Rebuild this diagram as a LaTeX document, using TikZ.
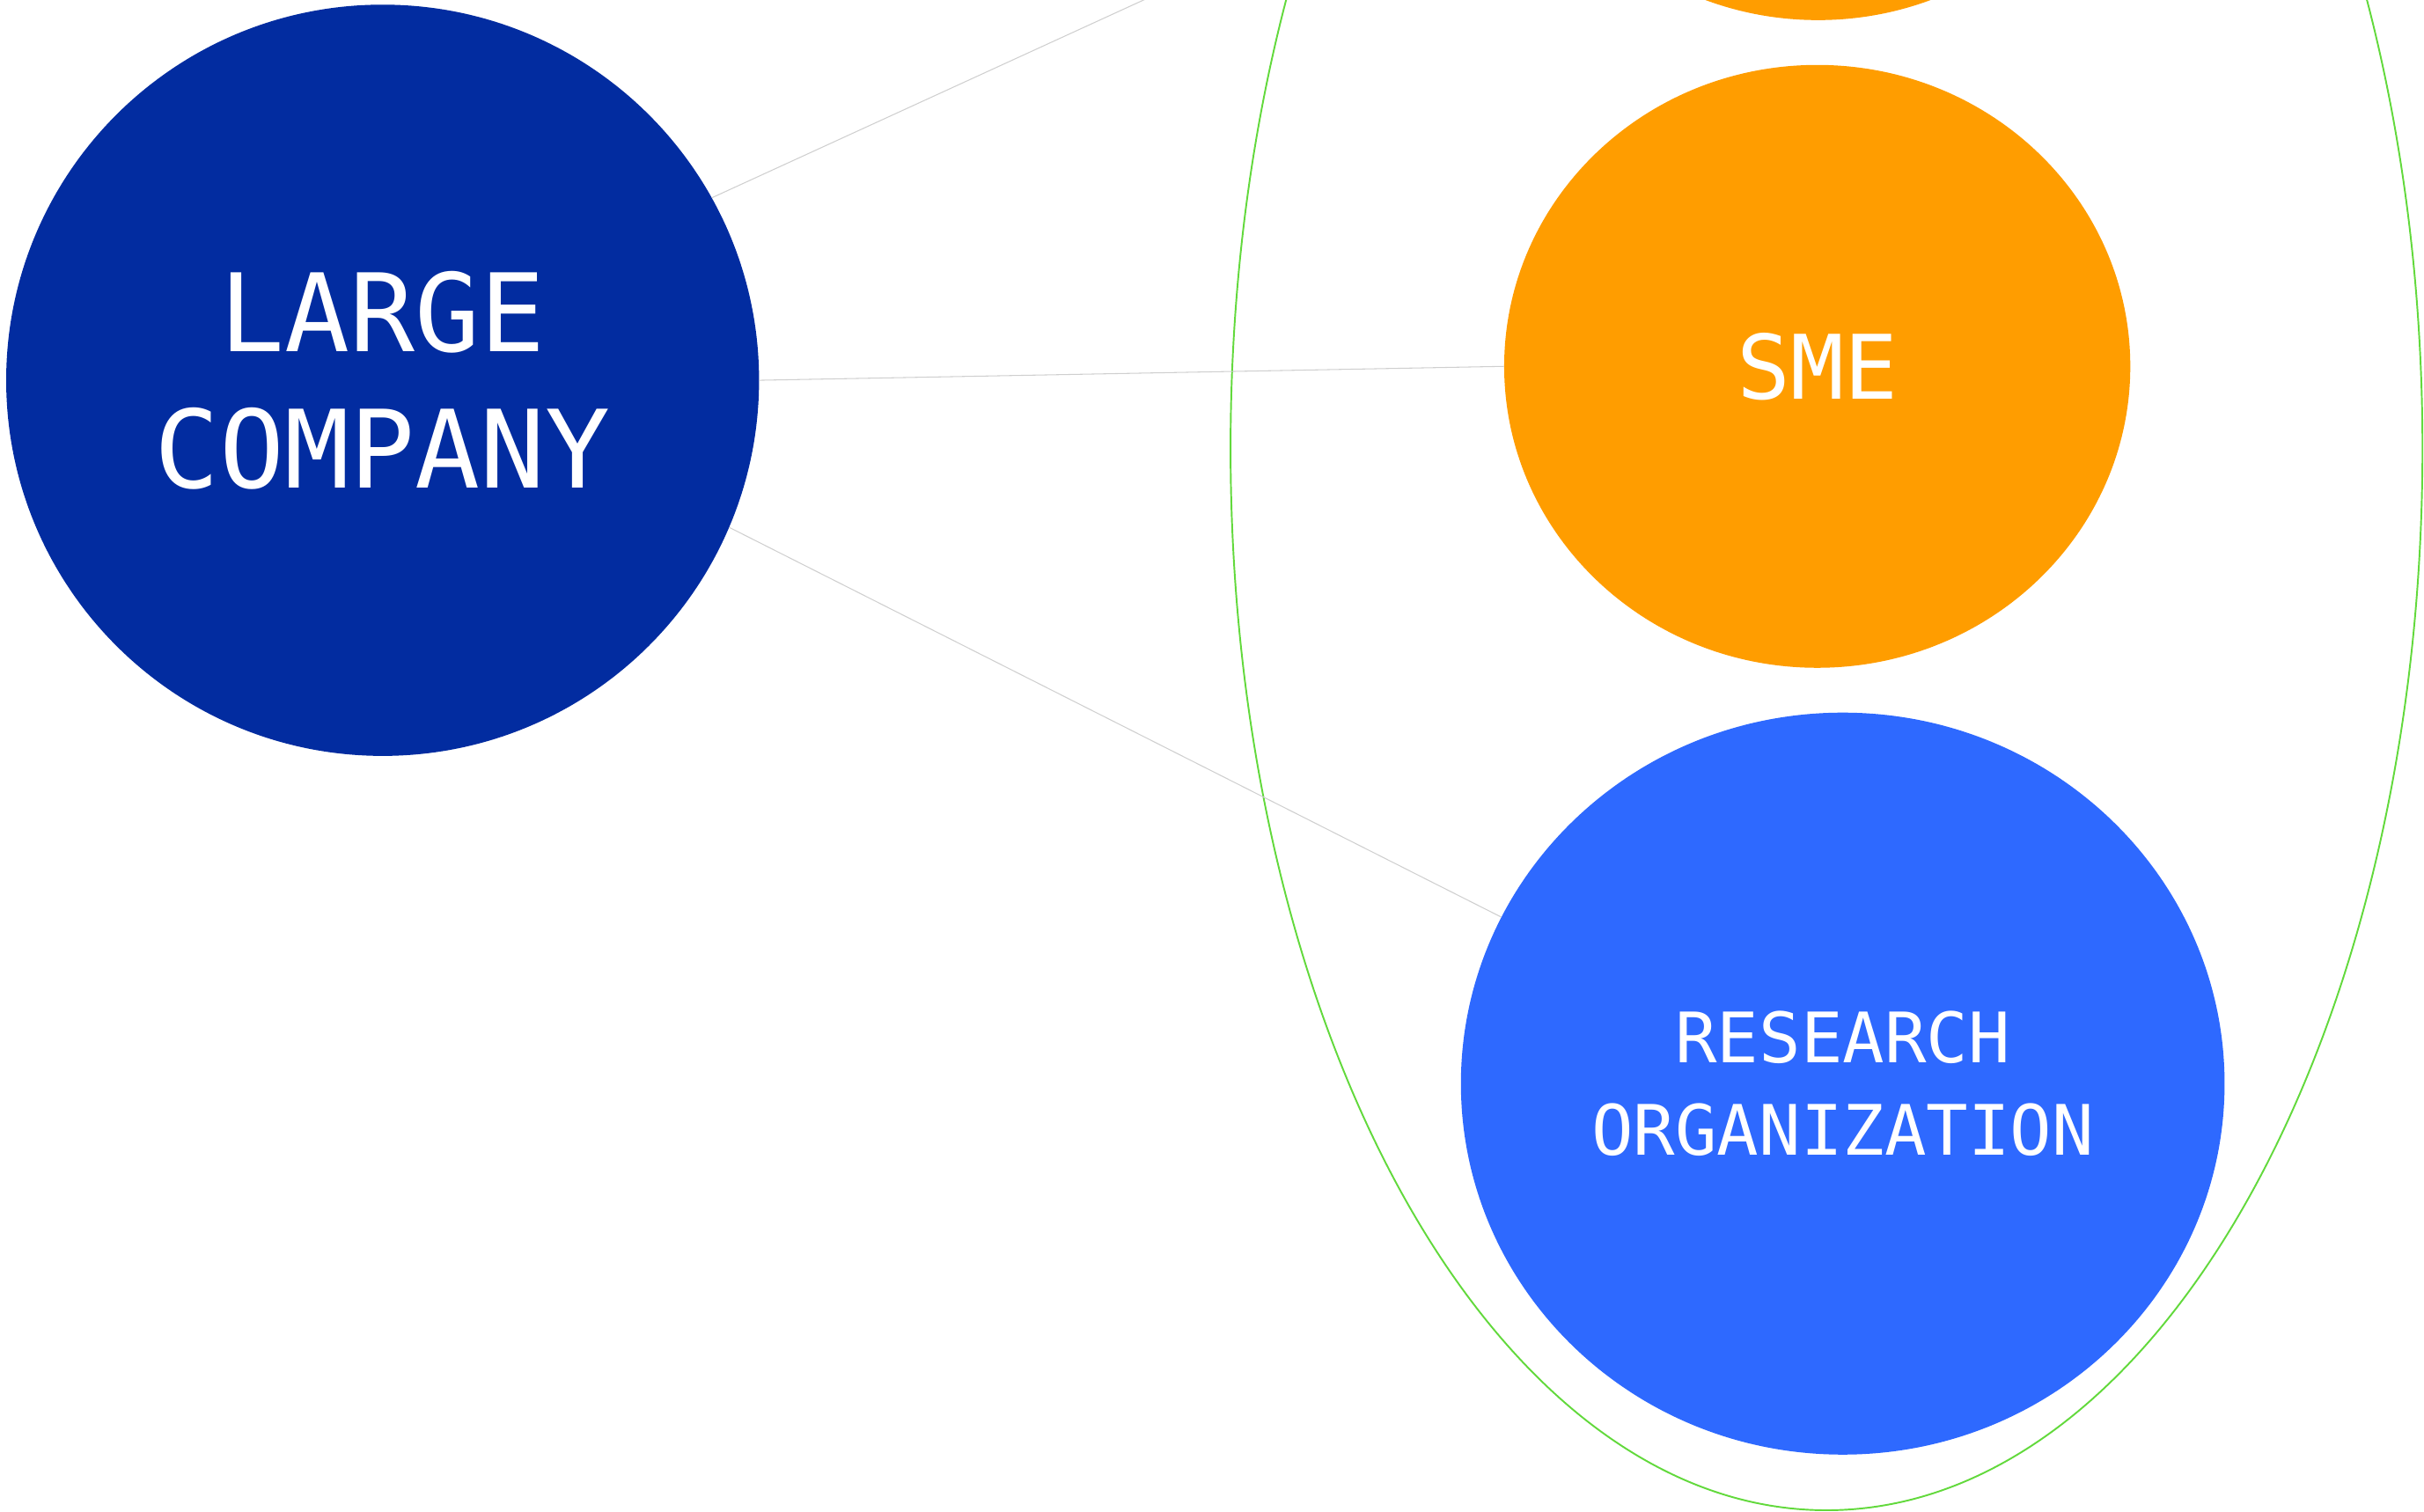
\documentclass[tikz,border=0pt]{standalone}
\usepackage{fontspec}
\setmainfont{DejaVu Sans Mono}
\usetikzlibrary{shapes.geometric}
\definecolor{lcblue}{HTML}{022CA0}
\definecolor{smeorange}{HTML}{FF9D00}
\definecolor{roblue}{HTML}{2E69FF}
\definecolor{grpgreen}{HTML}{62D93C}
\definecolor{linkgray}{HTML}{CFCFCF}
\tikzset{
  blob/.style={ellipse, inner sep=0pt, text=white, align=center},
  link/.style={draw=linkgray, line width=0.6pt},
  group/.style={ellipse, draw=grpgreen, line width=1.1pt, inner sep=0pt}
}
\begin{document}
\begin{tikzpicture}[x=1pt,y=-1pt]
\useasboundingbox (0,0) rectangle (1568,978);
\clip (0,0) rectangle (1568,978);
\node[group, minimum width=771pt, minimum height=1374pt] (grp) at (1181.5,290) {};
\node[blob, fill=smeorange, minimum width=405pt, minimum height=390pt] (top) at (1176,-182) {};
\node[blob, fill=lcblue, minimum width=487pt, minimum height=486pt,
      font=\fontsize{70}{88}\selectfont] (lc) at (247.5,246) {LARGE\\COMPANY};
\node[blob, fill=smeorange, minimum width=405pt, minimum height=390pt,
      font=\fontsize{57.6}{70}\selectfont] (sme) at (1175.5,237) {SME};
\node[blob, fill=roblue, minimum width=494pt, minimum height=480pt,
      font=\fontsize{45}{60}\selectfont] (ro) at (1192,701) {RESEARCH\\ORGANIZATION};
\draw[link] (lc.29.3) -- (top.200.75);
\draw[link] (lc.east) -- (sme.west);
\draw[link] (lc.-23.7) -- (ro.154.06);
\end{tikzpicture}
\end{document}
